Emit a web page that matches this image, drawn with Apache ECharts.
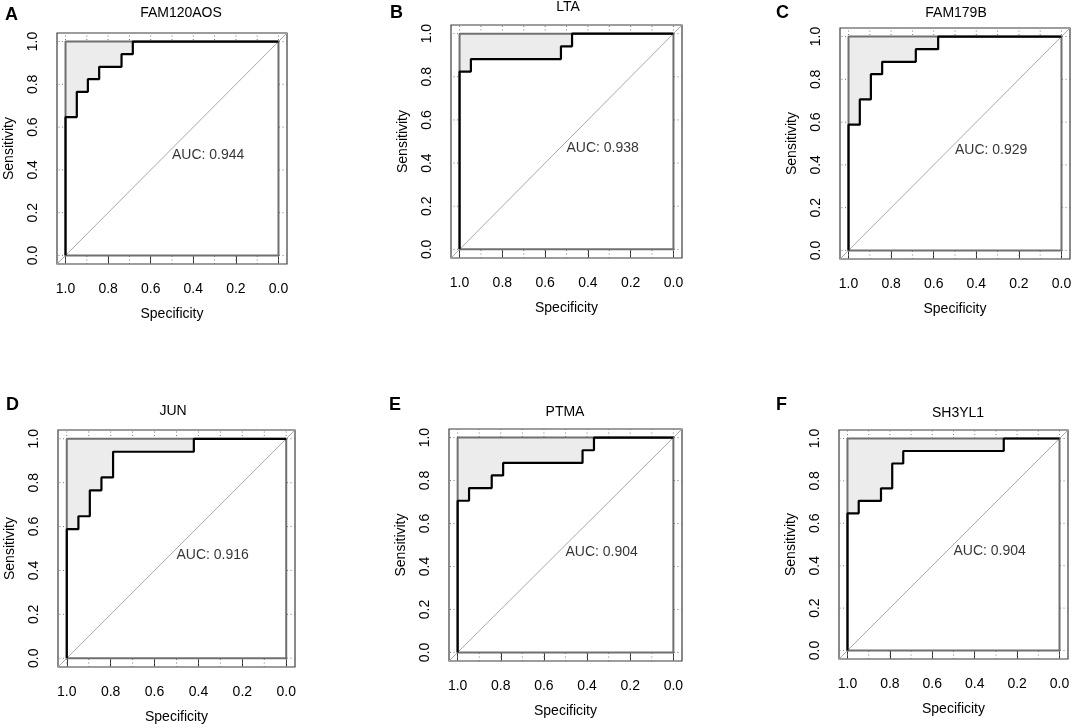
<!DOCTYPE html>
<html lang="en">
<head>
<meta charset="UTF-8">
<script src="https://cdn.jsdelivr.net/npm/echarts@6/dist/echarts.min.js"></script>
<title>ROC curves</title>
<style>
    html, body { margin: 0; background: #fff; }
    #container { width: 1072px; height: 728px; }
</style>
</head>
<body>
<div id="container"></div>
<script>
    // panel names and AUC values
    const letters = ['A', 'B', 'C', 'D', 'E', 'F'];
    const genes = ['FAM120AOS', 'LTA', 'FAM179B', 'JUN', 'PTMA', 'SH3YL1'];
    const aucs = ['0.944', '0.938', '0.929', '0.916', '0.904', '0.904'];

    // specificity where the curve rises, and the sensitivity it rises to
    const specA = [1.0, 0.947, 0.895, 0.842, 0.737, 0.684];
    const sensA = [0.647, 0.765, 0.824, 0.882, 0.941, 1.0];
    const specB = [1.0, 0.947, 0.526, 0.474];
    const sensB = [0.824, 0.882, 0.941, 1.0];
    const specC = [1.0, 0.947, 0.895, 0.842, 0.684, 0.579];
    const sensC = [0.588, 0.706, 0.824, 0.882, 0.941, 1.0];
    const specD = [1.0, 0.947, 0.895, 0.842, 0.789, 0.421];
    const sensD = [0.588, 0.647, 0.765, 0.824, 0.941, 1.0];
    const specE = [1.0, 0.947, 0.842, 0.789, 0.421, 0.368];
    const sensE = [0.706, 0.765, 0.824, 0.882, 0.941, 1.0];
    const specF = [1.0, 0.947, 0.842, 0.789, 0.737, 0.263];
    const sensF = [0.647, 0.706, 0.765, 0.882, 0.941, 1.0];

    const tickVals = [0, 0.2, 0.4, 0.6, 0.8, 1.0];
    const gridX = [0, 0.1, 0.2, 0.3, 0.4, 0.5, 0.6, 0.7, 0.8, 0.9, 1.0];
    const gridY = [0, 0.2, 0.4, 0.6, 0.8, 1.0];

    const specs = [specA, specB, specC, specD, specE, specF];
    const senss = [sensA, sensB, sensC, sensD, sensE, sensF];

    // plot boxes (outer R box) and text anchors
    const boxes = [
        {l: 57, t: 33, w: 230, h: 231, tx: 181, ty: 13, lx: 5, ly: 15},
        {l: 451, t: 25, w: 231, h: 233, tx: 568, ty: 7, lx: 390, ly: 13},
        {l: 840, t: 28, w: 230, h: 231, tx: 956, ty: 13, lx: 776, ly: 13},
        {l: 58, t: 430, w: 237, h: 237, tx: 173, ty: 411, lx: 6, ly: 405},
        {l: 449, t: 429, w: 233, h: 232, tx: 565, ty: 412, lx: 389, ly: 405},
        {l: 839, t: 430, w: 229, h: 229, tx: 958, ty: 413, lx: 776, ly: 405}
    ];

    const font = 'Liberation Sans, Arial, sans-serif';
    const ink = '#000';
    const lo = -0.04, hi = 1.04;

    function stepPoints(spec, sens) {
        const pts = [[1, 0]];
        let prev = 0;
        spec.forEach((x, k) => {
            pts.push([x, prev]);
            pts.push([x, sens[k]]);
            prev = sens[k];
        });
        pts.push([0, prev]);
        return pts;
    }

    function gridLine(vertical) {
        return function (params, api) {
            let p1, p2;
            if (vertical) {
                p1 = api.coord([api.value(0), lo]);
                p2 = api.coord([api.value(0), hi]);
            } else {
                p1 = api.coord([lo, api.value(1)]);
                p2 = api.coord([hi, api.value(1)]);
            }
            return {
                type: 'line',
                shape: {x1: p1[0], y1: p1[1], x2: p2[0], y2: p2[1]},
                style: {stroke: '#7a7a7a', lineWidth: 1, lineDash: [1, 2.5]}
            };
        };
    }

    const grid = [], xAxis = [], yAxis = [], series = [], graphic = [];

    boxes.forEach((b, i) => {
        grid.push({
            left: b.l, top: b.t, width: b.w, height: b.h,
            outerBoundsMode: 'none', containLabel: false,
            show: true, borderColor: '#3c3c3c', borderWidth: 1.2, backgroundColor: 'transparent'
        });
        xAxis.push({
            gridIndex: i, type: 'value', min: lo, max: hi, inverse: true,
            name: 'Specificity', nameLocation: 'middle', nameGap: 43,
            nameTextStyle: {fontSize: 14, color: ink, fontFamily: font},
            axisLine: {show: false},
            axisTick: {show: true, customValues: tickVals, length: 8, lineStyle: {color: '#333'}},
            axisLabel: {customValues: tickVals, formatter: v => v.toFixed(1), margin: 18,
                fontSize: 14, color: ink, fontFamily: font},
            splitLine: {show: false}
        });
        yAxis.push({
            gridIndex: i, type: 'value', min: lo, max: hi,
            name: 'Sensitivity', nameLocation: 'middle', nameGap: 41,
            nameTextStyle: {fontSize: 14, color: ink, fontFamily: font},
            axisLine: {show: false},
            axisTick: {show: true, customValues: tickVals, length: 8, lineStyle: {color: '#333'}},
            axisLabel: {customValues: tickVals, formatter: v => v.toFixed(1), margin: 17, rotate: 90,
                fontSize: 14, color: ink, fontFamily: font},
            splitLine: {show: false}
        });

        const common = {xAxisIndex: i, yAxisIndex: i, silent: true, animation: false};
        const roc = stepPoints(specs[i], senss[i]);

        series.push(Object.assign({
            type: 'custom', z: 1, renderItem: gridLine(true),
            data: gridX.map(v => [v, 0])
        }, common));
        series.push(Object.assign({
            type: 'custom', z: 1, renderItem: gridLine(false),
            data: gridY.map(v => [0, v])
        }, common));
        // light grey square (max AUC)
        series.push(Object.assign({
            type: 'line', z: 2, symbol: 'none',
            data: [[1, 1], [0, 1]],
            lineStyle: {width: 0}, areaStyle: {color: '#ececec', opacity: 1}
        }, common));
        // white area under the curve
        series.push(Object.assign({
            type: 'line', z: 3, symbol: 'none', data: roc,
            lineStyle: {width: 0}, areaStyle: {color: '#ffffff', opacity: 1}
        }, common));
        // border of the square
        series.push(Object.assign({
            type: 'line', z: 4, symbol: 'none',
            data: [[1, 0], [1, 1], [0, 1], [0, 0], [1, 0]],
            lineStyle: {color: '#707070', width: 2}
        }, common));
        // identity line
        series.push(Object.assign({
            type: 'line', z: 5, symbol: 'none',
            data: [[hi, lo], [lo, hi]],
            lineStyle: {color: '#a8a8a8', width: 1}
        }, common));
        // ROC curve
        series.push(Object.assign({
            type: 'line', z: 6, symbol: 'none', data: roc,
            lineStyle: {color: '#000', width: 2.2}
        }, common));
        // AUC text
        series.push(Object.assign({
            type: 'scatter', z: 7, symbolSize: 0, data: [[0.5, 0.5]],
            itemStyle: {color: 'transparent'},
            label: {show: true, position: [0, 0], align: 'left', verticalAlign: 'top',
                formatter: 'AUC: ' + aucs[i], fontSize: 14, color: ink, fontFamily: font}
        }, common));

        graphic.push({
            type: 'text', x: b.tx, y: b.ty, silent: true,
            style: {text: genes[i], align: 'center', verticalAlign: 'middle',
                fontSize: 14, fill: ink, fontFamily: font}
        });
        graphic.push({
            type: 'text', x: b.lx, y: b.ly, silent: true,
            style: {text: letters[i], align: 'left', verticalAlign: 'middle',
                fontSize: 18, fontWeight: 'bold', fill: '#000', fontFamily: font}
        });
    });

    const myChart = echarts.init(document.getElementById('container'), null, {renderer: 'canvas'});
    myChart.setOption({
        animation: false,
        backgroundColor: '#fff',
        grid: grid,
        xAxis: xAxis,
        yAxis: yAxis,
        series: series,
        graphic: graphic
    });
</script>
</body>
</html>
